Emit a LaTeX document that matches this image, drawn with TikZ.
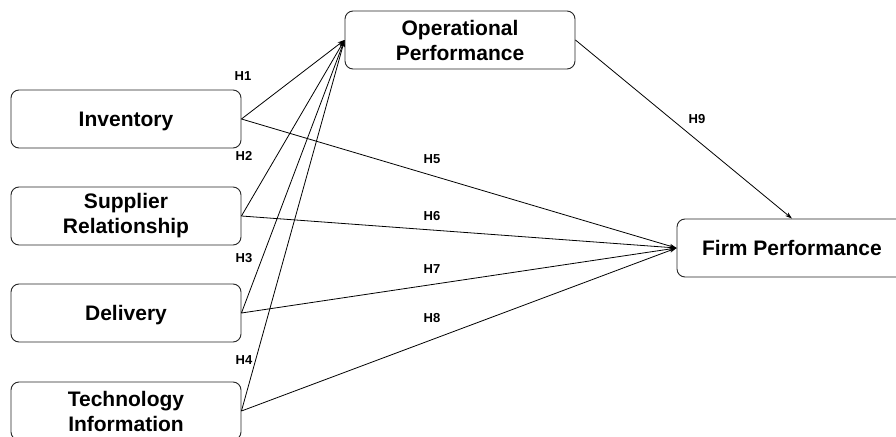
\documentclass[tikz,border=0pt]{standalone}
\usepackage{fontspec}
\setmainfont{Liberation Sans}
\usetikzlibrary{arrows.meta}
\tikzset{
  box/.style={draw=black!85, line width=0.9pt, rounded corners=8pt, minimum width=230pt, minimum height=58pt,
    align=center, inner sep=2pt, font=\fontsize{21}{25}\selectfont\bfseries},
  onebox/.style={box, text depth=0pt},
  hlab/.style={font=\fontsize{13}{14}\selectfont\bfseries, inner sep=0pt},
  link/.style={line width=0.8pt, -{Stealth[length=7pt,width=4.5pt]}}
}
\begin{document}
\begin{tikzpicture}[x=1pt,y=-1pt]
\useasboundingbox (0,0) rectangle (896,436);
\clip (0,0) rectangle (896,436);
\fill[white] (0,0) rectangle (896,436);
\node[onebox] (inv) at (126,119) {Inventory};
\node[box] (sup) at (126,216) {Supplier\\Relationship};
\node[onebox] (del) at (126,313) {Delivery};
\node[box] (tech) at (126,411) {Technology\\Information};
\node[box] (op) at (460,40) {Operational\\Performance};
\node[onebox] (fp) at (792,248) {Firm Performance};
\draw[link] (inv.east) -- (op.west);
\draw[link] (sup.east) -- (op.west);
\draw[link] (del.east) -- (op.west);
\draw[link] (tech.east) -- (op.west);
\draw[link] (inv.east) -- (fp.west);
\draw[link] (sup.east) -- (fp.west);
\draw[link] (del.east) -- (fp.west);
\draw[link] (tech.east) -- (fp.west);
\draw[link] (op.east) -- (fp.north);
\node[hlab] (h1) at (243,76) {H1};
\node[hlab] (h2) at (244,156) {H2};
\node[hlab] (h3) at (244,258) {H3};
\node[hlab] (h4) at (244,360) {H4};
\node[hlab] (h5) at (432,159) {H5};
\node[hlab] (h6) at (432,216) {H6};
\node[hlab] (h7) at (432,269) {H7};
\node[hlab] (h8) at (432,318) {H8};
\node[hlab] (h9) at (697,119) {H9};
\end{tikzpicture}
\end{document}
